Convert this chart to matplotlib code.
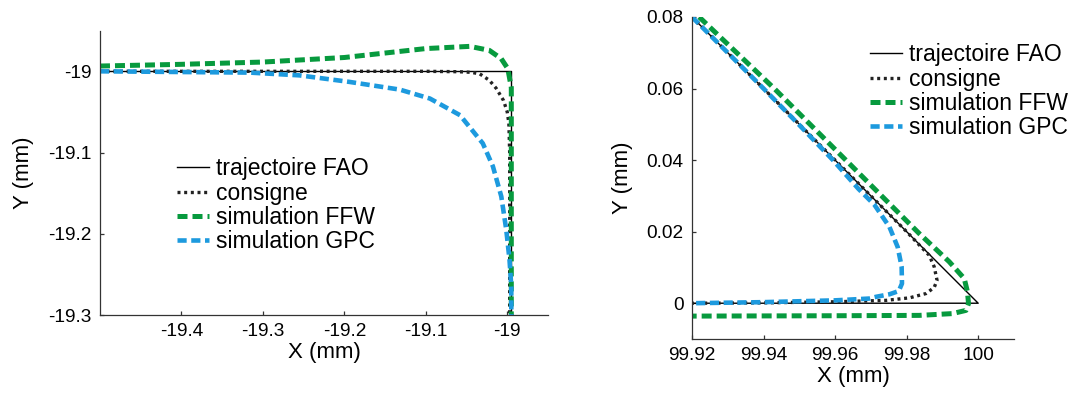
import matplotlib
matplotlib.use("Agg")
import matplotlib.pyplot as plt

plt.rcParams['font.family'] = ['Liberation Sans', 'DejaVu Sans']
plt.rcParams['axes.unicode_minus'] = False

labels = ['trajectoire FAO', 'consigne', 'simulation FFW', 'simulation GPC']

# --- left panel: corner at (-19, -19) ---
fao_x_l = [-19.5, -18.995, -18.995]
fao_y_l = [-19.0, -19.0, -19.3]

cons_x_l = [-19.5, -19.1, -19.06, -19.045, -19.034, -19.022, -19.0135, -19.0045,
            -19.0, -18.998, -18.997, -18.997]
cons_y_l = [-19.0, -19.0, -19.0005, -19.0012, -19.003, -19.011, -19.021, -19.036,
            -19.05, -19.064, -19.1, -19.3]

ffw_x_l = [-19.5, -19.4, -19.3, -19.2, -19.1, -19.046, -19.022, -19.0074,
           -18.9993, -18.995, -18.995]
ffw_y_l = [-18.9935, -18.9914, -18.9886, -18.983, -18.972, -18.9693, -18.9742,
           -18.9844, -18.9967, -19.02, -19.3]

gpc_x_l = [-19.5, -19.316, -19.255, -19.194, -19.132, -19.095, -19.058, -19.030,
           -19.0176, -19.0073, -19.0012, -18.9972, -18.995, -18.995]
gpc_y_l = [-19.0, -19.0016, -19.005, -19.013, -19.0225, -19.0335, -19.054, -19.0887,
           -19.117, -19.154, -19.195, -19.232, -19.265, -19.3]

xticks_l = [-19.4, -19.3, -19.2, -19.1, -19.0]
xticklabels_l = ['-19.4', '-19.3', '-19.2', '-19.1', '-19']
yticks_l = [-19.3, -19.2, -19.1, -19.0]
yticklabels_l = ['-19.3', '-19.2', '-19.1', '-19']

# --- right panel: sharp corner at (100, 0) ---
fao_x_r = [99.92, 100.0, 99.92]
fao_y_r = [0.08, 0.0, 0.0]

cons_x_r = [99.92, 99.98, 99.9836, 99.9863, 99.9877, 99.9885, 99.9877, 99.9854,
            99.9808, 99.9743, 99.96, 99.94, 99.92]
cons_y_r = [0.08, 0.02, 0.0162, 0.0134, 0.0102, 0.0064, 0.0044, 0.0027,
            0.0015, 0.0008, 0.0004, 0.0001, 0.0]

ffw_x_r = [99.922, 99.943, 99.963, 99.9835, 99.9919, 99.9961, 99.997, 99.9973,
           99.9966, 99.9928, 99.9835, 99.96, 99.92]
ffw_y_r = [0.080, 0.060, 0.040, 0.0195, 0.0116, 0.0069, 0.0032, -0.0001,
           -0.002, -0.0029, -0.0034, -0.0035, -0.0036]

gpc_x_r = [99.92, 99.94, 99.95, 99.9594, 99.9665, 99.971, 99.9752, 99.9775,
           99.9786, 99.9787, 99.9778, 99.9752, 99.9715, 99.9695, 99.96, 99.94, 99.92]
gpc_y_r = [0.08, 0.06, 0.0498, 0.04, 0.032, 0.0275, 0.0213, 0.0157,
           0.0102, 0.0055, 0.0034, 0.0025, 0.0018, 0.0013, 0.0008, 0.0003, 0.0]

xticks_r = [99.92, 99.94, 99.96, 99.98, 100.0]
xticklabels_r = ['99.92', '99.94', '99.96', '99.98', '100']
yticks_r = [0.0, 0.02, 0.04, 0.06, 0.08]
yticklabels_r = ['0', '0.02', '0.04', '0.06', '0.08']

GREEN = '#079a3e'
BLUE = '#1d9ade'


def draw(ax, fao, cons, ffw, gpc):
    ax.plot(*fao, color='black', lw=1.0, label=labels[0])
    ax.plot(*cons, color='#222222', lw=2.4, dashes=(0.9, 1.1), label=labels[1])
    ax.plot(*ffw, color=GREEN, lw=3.6, dashes=(2.0, 1.0), label=labels[2])
    ax.plot(*gpc, color=BLUE, lw=3.3, dashes=(2.0, 1.0), label=labels[3])

    #MATLAB-like axes: no box, inward ticks
    for s in ['top', 'right']:
        ax.spines[s].set_visible(False)
    for s in ['left', 'bottom']:
        ax.spines[s].set_color('#333333')
        ax.spines[s].set_linewidth(0.9)
    ax.tick_params(direction='in', length=3, width=0.9, color='#333333',
                   labelsize=13.7, pad=6)
    ax.set_xlabel('X (mm)', fontsize=16, labelpad=1)
    ax.set_ylabel('Y (mm)', fontsize=16, labelpad=10)


def add_legend(ax, anchor):
    ax.legend(loc='upper left', bbox_to_anchor=anchor, frameon=False,
              fontsize=16.5, handlelength=1.4, handletextpad=0.3,
              labelspacing=0.05, borderpad=0, borderaxespad=0)


fig = plt.figure(figsize=(10.74, 3.94), dpi=100)

ax1 = fig.add_axes([0.0931, 0.2005, 0.4171, 0.7216])
draw(ax1, (fao_x_l, fao_y_l), (cons_x_l, cons_y_l), (ffw_x_l, ffw_y_l), (gpc_x_l, gpc_y_l))
ax1.set_xlim(-19.5, -18.95)
ax1.set_ylim(-19.3, -18.95)
ax1.set_xticks(xticks_l)
ax1.set_xticklabels(xticklabels_l)
ax1.set_yticks(yticks_l)
ax1.set_yticklabels(yticklabels_l)
add_legend(ax1, (0.172, 0.554))

ax2 = fig.add_axes([0.6443, 0.1396, 0.2998, 0.8173])
draw(ax2, (fao_x_r, fao_y_r), (cons_x_r, cons_y_r), (ffw_x_r, ffw_y_r), (gpc_x_r, gpc_y_r))
ax2.set_xlim(99.92, 100.01)
ax2.set_ylim(-0.01, 0.08)
ax2.set_xticks(xticks_r)
ax2.set_xticklabels(xticklabels_r)
ax2.set_yticks(yticks_r)
ax2.set_yticklabels(yticklabels_r)
add_legend(ax2, (0.553, 0.918))

fig.savefig('out.png', dpi=100)
